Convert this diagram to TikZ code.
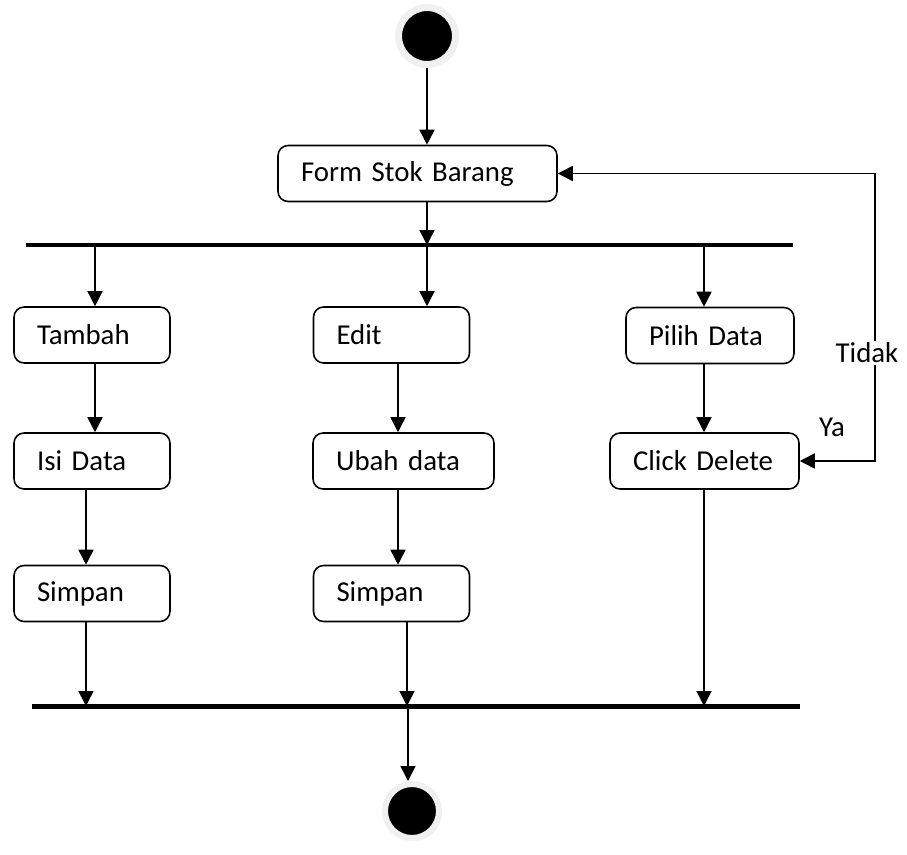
\documentclass[tikz,border=0pt]{standalone}
\usepackage{fontspec}
\setmainfont{Carlito}
\usetikzlibrary{arrows.meta,shadows}
\tikzset{
  act/.style={draw, rounded corners=.2cm, line width=.9pt, minimum height=1.12cm,
    inner xsep=.46cm, align=left, font=\fontsize{16.4}{20}\selectfont},
  arr/.style={line width=.9pt, -{Triangle[length=.3cm,width=.3cm]}},
  bar/.style={fill=black, inner sep=0pt, minimum height=.1cm},
  dot/.style={circle, fill=black, draw=gray!12, inner sep=0pt,
    drop shadow={shadow xshift=.05cm, shadow yshift=-.05cm, opacity=.2}},
  lbl/.style={font=\fontsize{16.4}{20}\selectfont, inner sep=1pt}
}
\begin{document}
\begin{tikzpicture}[x=0.02cm, y=-0.02cm]
\useasboundingbox (0,0) rectangle (907,855);
\node[dot, minimum size=1.14cm, line width=.14cm] (start) at (427,36) {};
\node[act, text width=4.66cm] (form) at (417.5,173.5) {Form Stok Barang};
\node[bar, minimum width=15.34cm] (fork) at (409.5,245) {};
\node[act, text width=2.2cm] (tambah) at (92,335) {Tambah};
\node[act, text width=2.2cm] (edit) at (391.5,335) {Edit};
\node[act, text width=2.44cm] (pilih) at (710,335.5) {Pilih Data};
\node[act, text width=2.2cm] (isi) at (92,461) {Isi Data};
\node[act, text width=2.7cm] (ubah) at (403.5,461) {Ubah data};
\node[act, text width=2.86cm] (hapus) at (704.5,461) {Click Delete};
\node[act, text width=2.2cm] (simpanA) at (92,593.5) {Simpan};
\node[act, text width=2.2cm] (simpanB) at (391.5,593.5) {Simpan};
\node[bar, minimum width=15.36cm] (join) at (416,706) {};
\node[dot, minimum size=1.08cm, line width=.12cm] (stop) at (412,811) {};

\draw[arr] (start.south -| 427,0) -- (form.north -| 427,0);
\draw[arr] (form.south -| 427,0) -- (fork.center -| 427,0);
\foreach \n/\x in {tambah/95, edit/427, pilih/704}
  \draw[arr] (fork.center -| \x,0) -- (\n.north -| \x,0);
\draw[arr] (tambah.south -| 95,0) -- (isi.north -| 95,0);
\draw[arr] (edit.south -| 398,0) -- (ubah.north -| 398,0);
\draw[arr] (pilih.south -| 704,0) -- (hapus.north -| 704,0);
\draw[arr] (isi.south -| 86,0) -- (simpanA.north -| 86,0);
\draw[arr] (ubah.south -| 398,0) -- (simpanB.north -| 398,0);
\draw[arr] (simpanA.south -| 86,0) -- (join.center -| 86,0);
\draw[arr] (simpanB.south -| 407,0) -- (join.center -| 407,0);
\draw[arr] (hapus.south -| 704,0) -- (join.center -| 704,0);
\draw[arr] (join.center -| 408,0) -- (stop.north -| 408,0);

\coordinate (loop) at (875,0);
\draw[line width=.9pt, {Triangle[length=.3cm,width=.3cm]}-{Triangle[length=.3cm,width=.3cm]}]
  (hapus.east) -- (hapus.east -| loop) -- (form.east -| loop) -- (form.east);
\node[lbl, fill=white] (tidak) at (867,353) {Tidak};
\node[lbl] (ya) at (832,427) {Ya};
\end{tikzpicture}
\end{document}
